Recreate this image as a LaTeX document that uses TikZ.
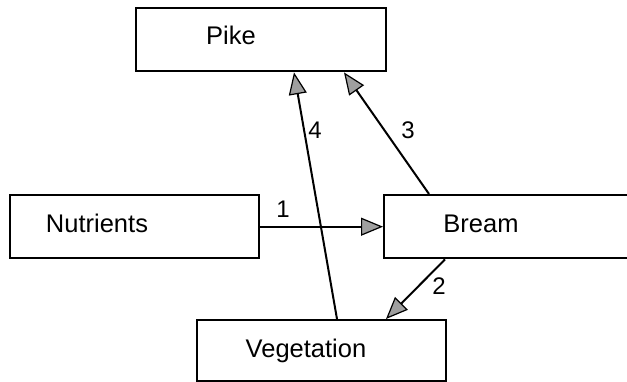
\documentclass[tikz,border=0pt]{standalone}
\usepackage{fontspec}
\setmainfont{Liberation Sans}
\usetikzlibrary{arrows.meta,calc}
\begin{document}
\begin{tikzpicture}[x=1pt,y=-1pt,
 box/.style={draw, line width=2.4pt, inner sep=0pt, anchor=north west, minimum height=63pt},
 lbl/.style={font=\fontsize{25.5}{28}\selectfont, inner sep=0pt, anchor=base},
 num/.style={font=\fontsize{24}{26}\selectfont, inner sep=0pt, anchor=base},
 link/.style={line width=2pt, -{Triangle[length=22pt,width=18pt,fill=gray!75,line width=1.2pt]}}]
\useasboundingbox (0,0) rectangle (627,382);
\node[box, minimum width=250pt] (pike) at (135,7) {};
\node[box, minimum width=249pt] (nut) at (9,194) {};
\node[box, minimum width=252pt] (bream) at (383,194) {};
\node[box, minimum width=249pt, minimum height=61pt] (veg) at (196,319) {};
\node[lbl] (piket) at (231,45) {Pike};
\node[lbl] (nutt) at (97,233) {Nutrients};
\node[lbl] (breamt) at (481,233) {Bream};
\node[lbl] (vegt) at (306,357) {Vegetation};
\draw[link] (nut.east) -- (bream.west);
\draw[link] ($(bream.north west)+(46,0)$) -- ($(pike.south west)+(209,0)$);
\draw[link] ($(veg.north west)+(141,0)$) -- ($(pike.south west)+(159,0)$);
\draw[link] ($(bream.south west)+(62,0)$) -- ($(veg.north west)+(190,0)$);
\node[num] (n1) at (283,218) {1};
\node[num] (n4) at (315,139) {4};
\node[num] (n3) at (408,139) {3};
\node[num] (n2) at (439,295) {2};
\end{tikzpicture}
\end{document}
